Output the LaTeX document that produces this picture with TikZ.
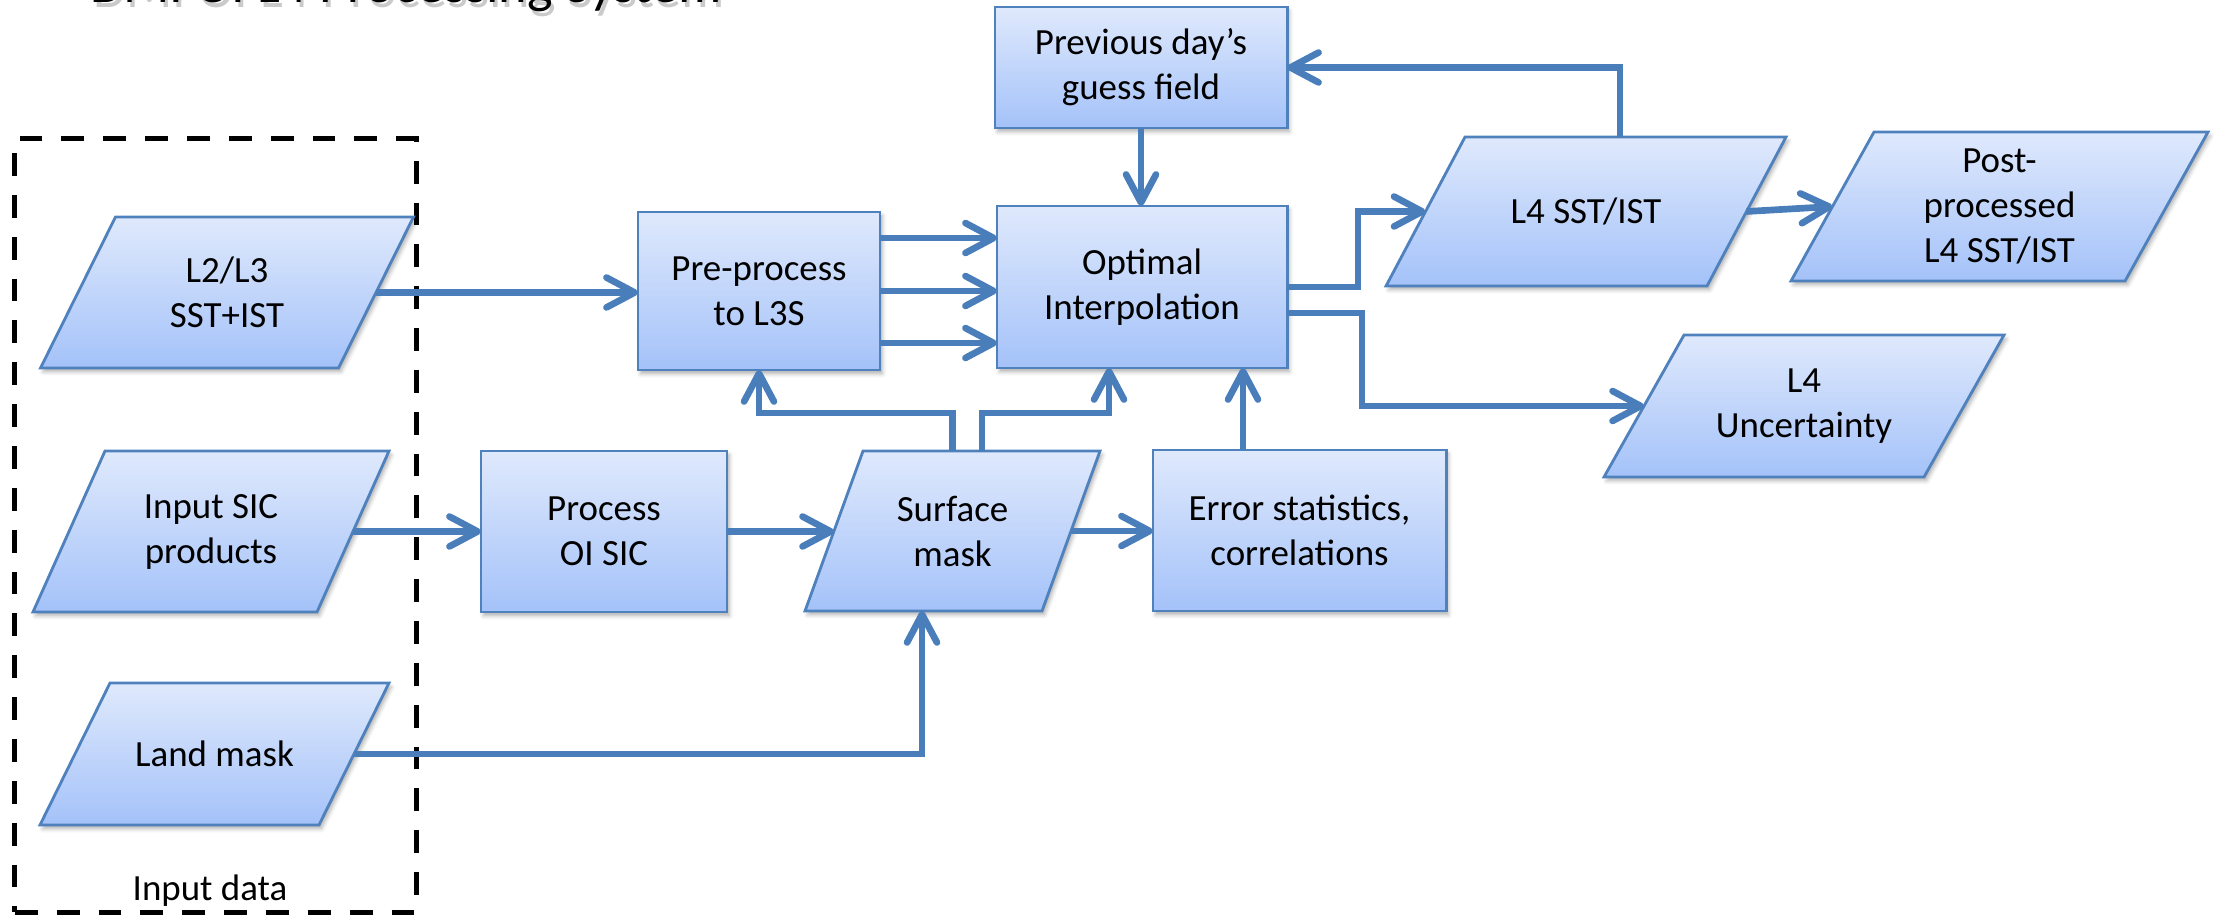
\documentclass[tikz,border=0pt]{standalone}
\usepackage{fontspec}
\setmainfont{Carlito}
\usetikzlibrary{arrows.meta,calc,shadows.blur}

\definecolor{boxline}{RGB}{79,129,189}
\definecolor{arrowblue}{RGB}{74,126,187}
\definecolor{fillTop}{RGB}{223,233,252}
\definecolor{fillBottom}{RGB}{164,194,249}

% data block: parallelogram outline plus a named text node
% #1 name, #2 cx, #3 cy, #4 half width, #5 half height, #6 half skew, #7 text
\newcommand{\datablock}[7]{%
  \path[block] (#2-#4+#6,#3-#5) -- (#2+#4+#6,#3-#5) -- (#2+#4-#6,#3+#5)
               -- (#2-#4-#6,#3+#5) -- cycle;
  \node[minimum width=2*#4*0.01cm, minimum height=2*#5*0.01cm] (#1) at (#2,#3) {#7};}

\begin{document}
\begin{tikzpicture}[x=0.01cm, y=-0.01cm,
  every node/.style={font=\fontsize{10.5pt}{12.8pt}\selectfont, align=center,
                     outer sep=0pt, inner sep=0pt},
  block/.style={draw=boxline, line width=0.8pt, top color=fillTop, bottom color=fillBottom,
                blur shadow={shadow xshift=0.7pt, shadow yshift=-1.1pt,
                             shadow blur radius=1.1pt, shadow opacity=30}},
  procbox/.style 2 args={block, rectangle, minimum width=#1, minimum height=#2},
  flow/.style={draw=arrowblue, line width=1.9pt,
               -{Straight Barb[length=8pt,width=8.5pt,round]}},
  frame/.style={draw=black, line width=1.45pt, dash pattern=on 6.5pt off 5.4pt}
]
\useasboundingbox (0,0) rectangle (2216,916);
\clip (0,0) rectangle (2216,916);

% heading, only its lower edge lies inside the page
\node[anchor=base west, font=\fontsize{15.4pt}{18pt}\selectfont, text=black!60, opacity=0.35]
  (titleshadow) at (93,8) {DMI OI L4 Processing System};
\node[anchor=base west, font=\fontsize{15.4pt}{18pt}\selectfont]
  (title) at (90,3) {DMI OI L4 Processing System};

% input data group
\node[frame, minimum width=4.01cm, minimum height=7.73cm] (inputs) at (215.5,525.5) {};
\node[anchor=base] (inputlabel) at (210,900) {Input data};

% data (parallelogram) blocks
\datablock{in1}{227}{292.5}{149}{75.5}{37.5}{L2/L3\\SST+IST}
\datablock{in2}{211}{531.5}{142}{80.5}{36}{Input SIC\\products}
\datablock{in3}{214.5}{754}{139.5}{71}{35}{Land mask}
\datablock{surf}{952.5}{531}{118.5}{80}{29}{Surface\\mask}
\datablock{sst}{1586}{211.5}{160.5}{74.5}{39.5}{L4 SST/IST}
\datablock{post}{1999.5}{206.5}{167}{74.5}{41.5}{Post-\\processed\\L4 SST/IST}
\datablock{unc}{1804}{406}{160}{71}{40}{L4\\Uncertainty}

% processing blocks
\node[procbox={2.92cm}{1.21cm}] (prev) at (1141,67.5) {Previous day's\\guess field};
\node[procbox={2.42cm}{1.58cm}] (pre) at (759,291) {Pre-process\\to L3S};
\node[procbox={2.90cm}{1.62cm}] (oi) at (1142,287) {Optimal\\Interpolation};
\node[procbox={2.46cm}{1.61cm}] (proc) at (604,531.5) {Process\\OI SIC};
\node[procbox={2.93cm}{1.61cm}] (err) at (1299.5,530.5) {Error statistics,\\correlations};

% connectors
\draw[flow] (in1.east) -- (in1.east -| pre.west);
\draw[flow] (pre.east |- 0,238) -- (oi.west |- 0,238);
\draw[flow] (pre.east |- 0,291) -- (oi.west |- 0,291);
\draw[flow] (pre.east |- 0,343) -- (oi.west |- 0,343);
\draw[flow] (prev.south) -- (prev.south |- oi.north);
\draw[flow] (sst.north -| 1620,0) |- (prev.east);
\draw[flow] (oi.east) -- (oi.east -| 1358,0) |- (sst.west);
\draw[flow] (oi.east |- 0,313) -- (1362,313) |- (unc.west);
\draw[flow] (sst.east) -- (post.west);
\draw[flow] (in2.east) -- (in2.east -| proc.west);
\draw[flow] (proc.east) -- (proc.east -| surf.west);
\draw[flow] (surf.east) -- (surf.east -| err.west);
\draw[flow] (in3.east) -| (surf.south -| 922,0);
\draw[flow] (surf.north) -- (surf.north |- 0,413) -| (pre.south);
\draw[flow] (surf.north -| 982,0) -- (982,413) -| (oi.south -| 1109,0);
\draw[flow] (err.north -| 1243,0) -- (oi.south -| 1243,0);
\end{tikzpicture}
\end{document}
